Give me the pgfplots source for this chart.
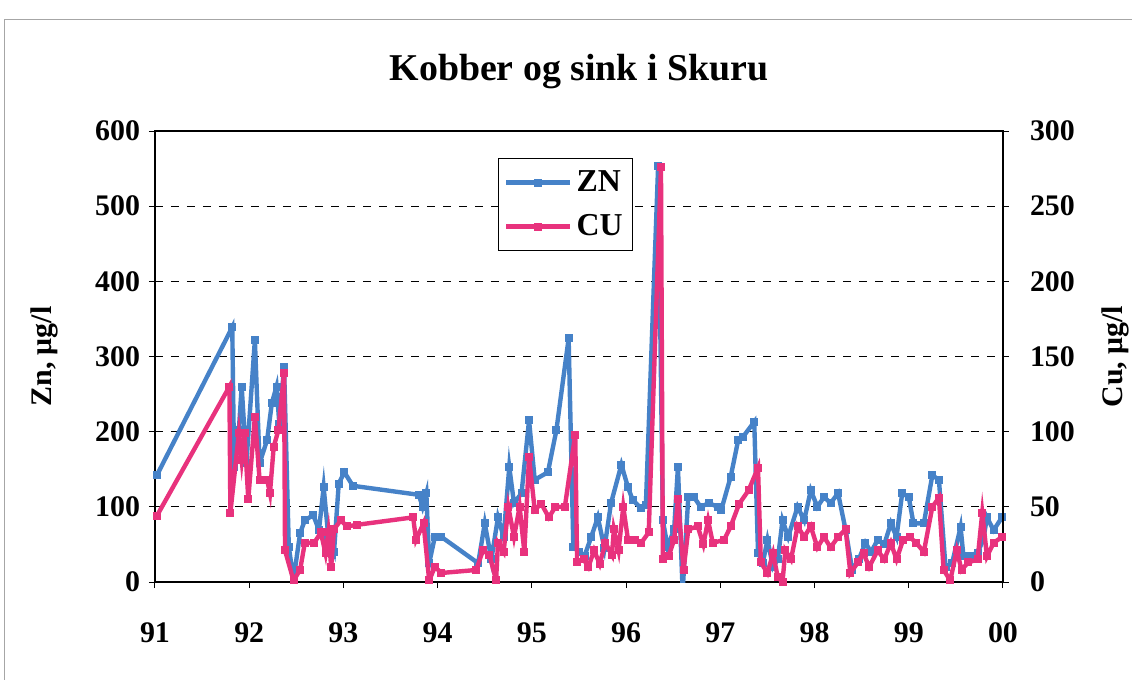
\documentclass[border=0pt]{standalone}
\usepackage{pgfplots}
\pgfplotsset{compat=1.18}
\usepackage{pgfplotstable}
\usepackage{fontspec}
\setmainfont{Liberation Serif}
\definecolor{znblue}{RGB}{70,130,200}
\definecolor{cupink}{RGB}{232,50,125}

\pgfplotstableread{
x y
91.02 142
91.82 339
91.84 153
91.89 202
91.92 260
91.97 158
92.06 322
92.11 158
92.19 189
92.24 238
92.29 260
92.32 210
92.37 286
92.42 47
92.47 3
92.54 65
92.59 82
92.68 89
92.74 69
92.79 126
92.84 60
92.90 40
92.95 131
93.01 146
93.10 128
93.80 116
93.84 100
93.88 118
93.91 25
93.97 60
94.04 60
94.43 25
94.50 78
94.57 30
94.64 86
94.70 60
94.76 153
94.81 105
94.89 118
94.97 215
95.03 136
95.17 146
95.26 202
95.39 324
95.44 47
95.50 40
95.56 35
95.63 60
95.70 86
95.77 45
95.84 105
95.95 156
96.02 126
96.07 109
96.16 98
96.21 103
96.34 554
96.39 82
96.44 47
96.51 70
96.55 153
96.60 -12
96.66 113
96.72 113
96.79 100
96.88 105
96.97 100
97.01 96
97.11 140
97.19 189
97.24 193
97.36 213
97.40 39
97.45 25
97.50 56
97.56 20
97.61 30
97.66 82
97.72 60
97.82 100
97.89 82
97.96 122
98.03 100
98.10 113
98.17 105
98.25 118
98.33 69
98.40 16
98.47 30
98.54 52
98.60 40
98.67 56
98.74 50
98.81 78
98.87 60
98.93 118
99.00 113
99.05 78
99.16 78
99.25 142
99.32 136
99.39 20
99.46 25
99.55 73
99.58 35
99.65 35
99.73 39
99.79 56
99.83 86
99.90 69
99.99 86
}\zndata

\pgfplotstableread{
x y
91.02 44
91.79 130
91.80 46
91.89 99
91.92 81
91.95 99
91.99 55
92.06 110
92.11 68
92.19 68
92.22 59
92.26 90
92.31 101
92.37 139
92.38 21
92.47 1
92.54 8
92.59 26
92.69 26
92.76 33
92.81 19
92.84 33
92.87 10
92.90 35
92.97 41
93.04 37
93.14 38
93.74 43
93.77 28
93.85 39
93.91 1
93.97 10
94.04 6
94.41 8
94.48 21
94.55 18
94.62 1
94.64 26
94.70 20
94.75 50
94.81 30
94.87 50
94.92 20
94.97 83
95.03 48
95.10 52
95.18 43
95.25 50
95.35 50
95.46 98
95.48 13
95.55 15
95.60 10
95.66 21
95.72 12
95.78 26
95.85 18
95.87 35
95.92 21
95.97 50
96.02 28
96.09 28
96.16 26
96.24 33
96.37 276
96.39 15
96.45 17
96.51 28
96.55 55
96.61 8
96.66 35
96.76 37
96.82 25
96.87 41
96.92 26
97.04 28
97.11 37
97.20 52
97.30 61
97.40 76
97.43 13
97.50 6
97.56 19
97.61 3
97.66 0
97.69 21
97.75 15
97.82 37
97.89 30
97.96 37
98.03 23
98.10 30
98.17 23
98.25 30
98.33 35
98.38 6
98.46 13
98.52 19
98.58 10
98.67 21
98.74 15
98.81 26
98.87 15
98.94 28
99.01 30
99.08 26
99.16 20
99.25 50
99.32 56
99.37 8
99.44 1
99.51 21
99.56 8
99.63 13
99.73 15
99.78 46
99.83 17
99.90 26
99.99 30
}\cudata

\begin{document}
\begin{tikzpicture}
\path[use as bounding box] (-77.5bp,-49bp) rectangle (488.5bp,291bp);
\draw[gray!70, line width=0.5bp] (-75bp,-49bp) -- (-75bp,281bp) -- (488.5bp,281bp);
\node[font=\bfseries\fontsize{19}{19}\selectfont] at (212bp,255bp) {Kobber og sink i Skuru};

\begin{axis}[
  at={(0,0)}, anchor=south west,
  scale only axis, width=424bp, height=225.5bp,
  xmin=91, xmax=100, ymin=0, ymax=600,
  xtick={91,92,...,100}, xticklabels={91,92,93,94,95,96,97,98,99,00},
  ytick={0,100,...,600}, yticklabels={0,100,200,300,400,500,600},
  ytick pos=left, xtick pos=bottom,
  tick align=outside, major tick length=3bp,
  tick style={black, line width=0.5bp},
  axis line style={black, line width=1.1bp},
  ymajorgrids, grid style={black, dashed, line width=0.5bp, dash pattern=on 4bp off 4bp},
  ticklabel style={font=\bfseries\fontsize{15}{15}\selectfont},
  xticklabel style={yshift=-14bp},
  yticklabel style={xshift=-1bp},
  ylabel={Zn, μg/l},
  ylabel style={font=\bfseries\fontsize{15}{15}\selectfont, at={(axis description cs:-0.13,0.5)}, anchor=center},
]
\addplot[znblue, line width=2.2bp, mark=square*, mark size=0.9bp] table[x=x,y=y] {\zndata};
\end{axis}

\begin{axis}[
  at={(0,0)}, anchor=south west,
  scale only axis, width=424bp, height=225.5bp,
  xmin=91, xmax=100, ymin=0, ymax=300,
  axis x line=none, axis y line*=right,
  ytick={0,50,...,300}, yticklabels={0,50,100,150,200,250,300},
  tick align=outside, major tick length=3bp,
  tick style={black, line width=0.5bp},
  axis line style={black, line width=1.1bp},
  ticklabel style={font=\bfseries\fontsize{15}{15}\selectfont},
  yticklabel style={xshift=7bp},
  ylabel={Cu, μg/l},
  ylabel style={font=\bfseries\fontsize{15}{15}\selectfont, at={(axis description cs:1.132,0.5)}, anchor=center, rotate=0},
  legend style={at={(0.404,0.94)}, anchor=north west, draw=black, line width=0.6bp,
    font=\bfseries\fontsize{16}{16}\selectfont, row sep=6bp, inner xsep=3bp, inner ysep=4bp,
    cells={anchor=west}},
  legend cell align=left,
  legend image code/.code={\draw[#1] (0bp,0bp) -- (32bp,0bp); \draw[#1, only marks] plot coordinates {(16bp,0bp)};},
]
\addlegendimage{znblue, line width=2.2bp, mark=square*, mark size=0.9bp}
\addlegendentry{ZN}
\addplot[cupink, line width=2.2bp, mark=square*, mark size=0.9bp] table[x=x,y=y] {\cudata};
\addlegendentry{CU}
\end{axis}
\end{tikzpicture}
\end{document}
